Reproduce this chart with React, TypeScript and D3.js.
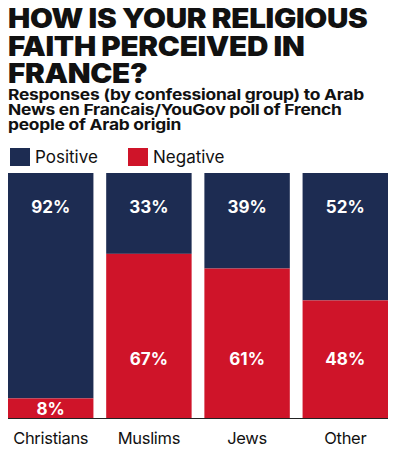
import React from 'react'
import * as d3 from 'd3'

const categories = ['Christians', 'Muslims', 'Jews', 'Other']
const positive = [92, 33, 39, 52]
const negative = [8, 67, 61, 48]
const titleLines = ['HOW IS YOUR RELIGIOUS', 'FAITH PERCEIVED IN', 'FRANCE?']
const subtitleLines = [
  'Responses (by confessional group) to Arab',
  'News en Francais/YouGov poll of French',
  'people of Arab origin',
]
const legendLabels = ['Positive', 'Negative']

const NAVY = '#1d2c52'
const RED = '#cf1429'
const FONT = "Inter, 'Liberation Sans', sans-serif"

const W = 393
const H = 453
const plotTop = 173
const plotBottom = 418

const App = () => {
  const x = d3.scaleBand<string>()
    .domain(categories)
    .range([8, 388])
    .paddingInner(0.13)
    .paddingOuter(0)

  const y = d3.scaleLinear().domain([0, 100]).range([plotBottom, plotTop])

  return (
    <svg width={W} height={H} style={{ position: 'absolute', left: 0, top: 0, background: '#fff' }}>
      {/* title: one text, stretched a bit wider like the original heavy grotesque */}
      <g transform="translate(8,0) scale(1.12,1)">
        <text fontFamily={FONT} fontWeight={900} fontSize={26.5} fill="#111" letterSpacing={-0.3}>
          {titleLines.map((t, i) => (
            <tspan key={t} x={0} y={28 + i * 27.6}>{t}</tspan>
          ))}
        </text>
      </g>
      <g transform="translate(8,0) scale(1.16,1)">
        <text fontFamily={FONT} fontWeight={700} fontSize={15} fill="#111" letterSpacing={-0.2}>
          {subtitleLines.map((t, i) => (
            <tspan key={t} x={0} y={100.5 + i * 15}>{t}</tspan>
          ))}
        </text>
      </g>
      {legendLabels.map((l, i) => (
        <g key={l} transform={`translate(${i === 0 ? 10 : 128},148)`}>
          <rect width={20} height={18} fill={i === 0 ? NAVY : RED} />
          <text x={25} y={15} fontFamily={FONT} fontSize={17} fill="#111">{l}</text>
        </g>
      ))}
      {categories.map((c, i) => {
        const bx = x(c) as number
        const bw = x.bandwidth()
        const cx = bx + bw / 2
        const negTop = y(negative[i])
        const posTop = y(negative[i] + positive[i])
        const negH = plotBottom - negTop
        const negLabelY = negH < 40 ? plotBottom - 3 : plotBottom - 53
        return (
          <g key={c}>
            <rect x={bx} y={posTop} width={bw} height={negTop - posTop} fill={NAVY} />
            <rect x={bx} y={negTop} width={bw} height={negH} fill={RED} />
            <text x={cx} y={posTop + 40} textAnchor="middle" fontFamily={FONT}
              fontWeight={700} fontSize={17} fill="#fff">{positive[i]}%</text>
            <text x={cx} y={negLabelY} textAnchor="middle" fontFamily={FONT}
              fontWeight={700} fontSize={17} fill="#fff">{negative[i]}%</text>
            <text x={cx} y={444} textAnchor="middle" fontFamily={FONT}
              fontSize={16.5} fill="#111" letterSpacing={-0.3}>{c}</text>
          </g>
        )
      })}
      <line x1={8} x2={388} y1={plotBottom + 0.5} y2={plotBottom + 0.5} stroke="#222" strokeWidth={1} />
    </svg>
  )
}

export default App
